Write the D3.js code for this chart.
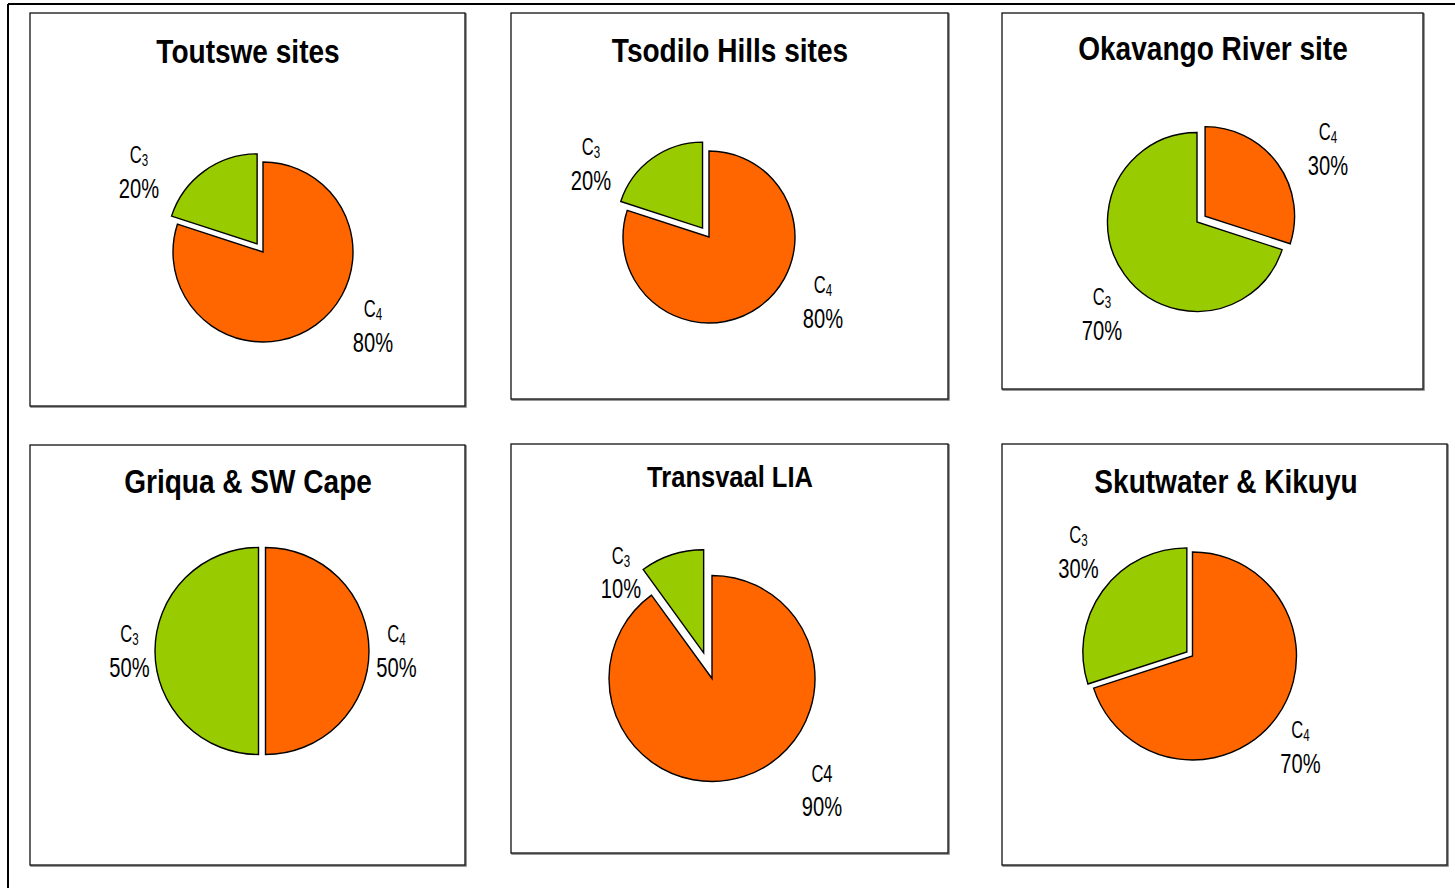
<!DOCTYPE html>
<html>
<head>
<meta charset="utf-8">
<script src="https://cdn.jsdelivr.net/npm/d3@7"></script>
<style>
  html, body { margin: 0; padding: 0; background: #fff; }
  svg { display: block; }
  .title { font-family: "Liberation Sans", Arial, sans-serif; font-weight: bold; }
  .lbl { font-family: "Liberation Sans", Arial, sans-serif; }
</style>
</head>
<body>
<script>
// Site groups and their C3 / C4 diet shares (%)
const sites = ["Toutswe sites", "Tsodilo Hills sites", "Okavango River site",
               "Griqua & SW Cape", "Transvaal LIA", "Skutwater & Kikuyu"];
const c4Share = [80, 80, 30, 50, 90, 70];
const c3Share = [20, 20, 70, 50, 10, 30];
// which slice is pulled out of each pie
const explodedSlice = ["C3", "C3", "C4", "C3", "C3", "C3"];
// C4 label written with a plain digit in the Transvaal panel
const c4Subscript = [true, true, true, true, false, true];

const colour = { C4: "#FF6600", C3: "#99CC00" };

// condensed look for the lettering (horizontal squeeze)
const titleSqueeze = 0.85, labelSqueeze = 0.72;

// Panel frames, pie placement and label offsets (relative to pie centre)
const layout = [
  { box: [30, 13, 435, 393],  tx: 248,  ty: 63,  ts: 33, cx: 263,   cy: 252,   r: 90,    ex: 10,
    lab: { C4: [110, 65], C3: [-124, -89] } },
  { box: [511, 13, 437, 386], tx: 730,  ty: 62,  ts: 33, cx: 709,   cy: 237,   r: 86,    ex: 11,
    lab: { C4: [114, 56], C3: [-118, -82] } },
  { box: [1002, 13, 421, 376], tx: 1213, ty: 60, ts: 33, cx: 1197,  cy: 222,   r: 89.5,  ex: 10,
    lab: { C4: [131, -82], C3: [-95, 83] } },
  { box: [30, 445, 435, 420], tx: 248,  ty: 493, ts: 33, cx: 265.5, cy: 651,   r: 103.5, ex: 7,
    lab: { C4: [131, -9], C3: [-136, -9] } },
  { box: [511, 444, 437, 409], tx: 730, ty: 487, ts: 30, cx: 712,   cy: 678.5, r: 103,   ex: 27,
    lab: { C4: [110, 103], C3: [-91, -115] } },
  { box: [1002, 444, 445, 421], tx: 1226, ty: 493, ts: 33, cx: 1192.5, cy: 656, r: 104,  ex: 7,
    lab: { C4: [108, 82], C3: [-114, -113] } }
];

const W = 1455, H = 888;
const svg = d3.select("body").append("svg").attr("width", W).attr("height", H);

// outer frame edges
svg.append("line").attr("x1", 8).attr("y1", 4).attr("x2", W).attr("y2", 4)
  .attr("stroke", "#000").attr("stroke-width", 2);
svg.append("line").attr("x1", 8).attr("y1", 4).attr("x2", 8).attr("y2", H)
  .attr("stroke", "#000").attr("stroke-width", 2);

const pie = d3.pie().sort(null).value(d => d.value);

sites.forEach((name, i) => {
  const L = layout[i];
  const g = svg.append("g");
  const [bx, by, bw, bh] = L.box;

  // soft shadow on right/bottom, then the frame
  g.append("rect").attr("x", bx + 1).attr("y", by + 1).attr("width", bw).attr("height", bh)
    .attr("fill", "none").attr("stroke", "#777").attr("stroke-width", 1.5);
  g.append("rect").attr("x", bx).attr("y", by).attr("width", bw).attr("height", bh)
    .attr("fill", "#fff").attr("stroke", "#111").attr("stroke-width", 1.3);

  g.append("text").attr("class", "title")
    .attr("transform", `translate(${L.tx},${L.ty}) scale(${titleSqueeze},1)`)
    .attr("text-anchor", "middle")
    .attr("font-size", L.ts).attr("fill", "#000").text(name);

  const data = [
    { key: "C4", value: c4Share[i] },
    { key: "C3", value: c3Share[i] }
  ];
  const arcs = pie(data);
  const arc = d3.arc().innerRadius(0).outerRadius(L.r);

  const pg = g.append("g").attr("transform", `translate(${L.cx},${L.cy})`);
  pg.selectAll("path").data(arcs).join("path")
    .attr("d", arc)
    .attr("fill", d => colour[d.data.key])
    .attr("stroke", "#000").attr("stroke-width", 1.4).attr("stroke-linejoin", "miter")
    .attr("transform", d => {
      if (d.data.key !== explodedSlice[i]) return null;
      const a = (d.startAngle + d.endAngle) / 2;
      return `translate(${Math.sin(a) * L.ex},${-Math.cos(a) * L.ex})`;
    });

  // category + percentage labels
  arcs.forEach(d => {
    const k = d.data.key;
    const [dx, dy] = L.lab[k];
    const lg = g.append("g")
      .attr("transform", `translate(${L.cx + dx},${L.cy + dy}) scale(${labelSqueeze},1)`);
    const t = lg.append("text").attr("class", "lbl").attr("text-anchor", "middle")
      .attr("x", 0).attr("y", 0).attr("fill", "#000");
    t.append("tspan").attr("font-size", 23).text("C");
    const sub = (k === "C3") || c4Subscript[i];
    if (sub) {
      t.append("tspan").attr("font-size", 16).attr("dy", 3).text(k.slice(1));
    } else {
      t.append("tspan").attr("font-size", 23).text(k.slice(1));
    }
    lg.append("text").attr("class", "lbl").attr("text-anchor", "middle")
      .attr("x", 0).attr("y", 35).attr("font-size", 28).attr("fill", "#000")
      .text(d.data.value + "%");
  });
});
</script>
</body>
</html>
